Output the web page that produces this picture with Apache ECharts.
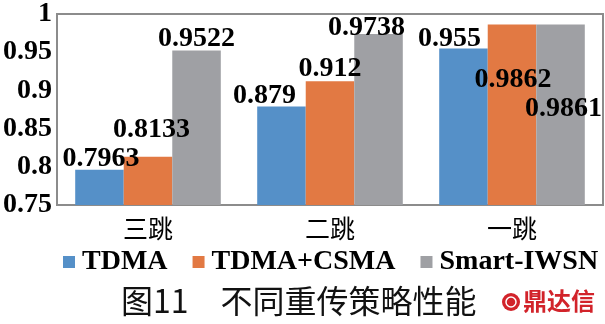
<!DOCTYPE html>
<html>
<head>
<meta charset="utf-8">
<script src="https://cdn.jsdelivr.net/npm/echarts@6/dist/echarts.min.js"></script>
<style>
  html, body { margin: 0; padding: 0; background: #fff; }
  #chart { width: 605px; height: 324px; }
</style>
</head>
<body>
<div id="chart"></div>
<script>
// Hop counts along the x axis
const categories = ['三跳', '二跳', '一跳'];
// Retransmission strategies
const seriesNames = ['TDMA', 'TDMA+CSMA', 'Smart-IWSN'];
// Performance of each strategy per hop count
const tdma = [0.7963, 0.879, 0.955];
const tdmaCsma = [0.8133, 0.912, 0.9862];
const smartIwsn = [0.9522, 0.9738, 0.9861];
// Value axis range
const yMin = 0.75;
const yMax = 1;
const yStep = 0.05;

const colors = ['#5590c8', '#e27943', '#9fa0a4'];
// Hand-placed label nudges [dx, dy] so the value texts do not collide
const labelShift = [
  [[1.5, 3], [-17, 3], [-14, 4]],
  [[3.5, -13], [0, 2], [1, 69]],
  [[0, 2], [-12, 8], [3, 98]]
];

const serif = "'Liberation Serif', 'Times New Roman', 'Noto Sans CJK SC', serif";
const allValues = [tdma, tdmaCsma, smartIwsn];

const series = allValues.map((vals, s) => ({
  name: seriesNames[s],
  type: 'bar',
  barGap: 0,
  barCategoryGap: '20%',
  itemStyle: { color: colors[s] },
  label: {
    show: true,
    position: 'top',
    distance: 0,
    color: '#000',
    fontFamily: serif,
    fontWeight: 'bold',
    fontSize: 28,
    formatter: p => String(p.value)
  },
  data: vals.map((v, i) => ({ value: v, label: { offset: labelShift[s][i] } }))
}));

const chart = echarts.init(document.getElementById('chart'), null, { renderer: 'canvas' });
chart.setOption({
  animation: false,
  backgroundColor: '#fff',
  grid: {
    left: 55, right: 2, top: 12, bottom: 119,
    show: true, borderColor: '#8c8c8c', borderWidth: 2, backgroundColor: 'transparent'
  },
  xAxis: {
    type: 'category',
    data: categories,
    axisTick: { show: false },
    axisLine: { show: true, lineStyle: { color: '#8c8c8c', width: 2 } },
    axisLabel: {
      margin: 11,
      color: '#000',
      fontSize: 25,
      fontFamily: "'Noto Sans CJK SC', serif"
    }
  },
  yAxis: {
    type: 'value',
    min: yMin,
    max: yMax,
    interval: yStep,
    splitLine: { show: false },
    axisLine: { show: false },
    axisTick: { show: false },
    axisLabel: {
      margin: 5,
      color: '#000',
      fontSize: 28,
      fontWeight: 'bold',
      fontFamily: serif
    }
  },
  legend: {
    left: 58,
    top: 243,
    itemWidth: 12,
    itemHeight: 12,
    itemGap: 25,
    icon: 'rect',
    data: seriesNames,
    textStyle: {
      color: '#000',
      fontSize: 28,
      fontWeight: 'bold',
      fontFamily: serif,
      padding: [0, 0, 0, 2]
    }
  },
  graphic: [
    {
      type: 'text',
      left: 121,
      top: 285,
      style: {
        text: '图11　不同重传策略性能',
        fill: '#111',
        font: "32px 'Noto Sans CJK SC', sans-serif"
      }
    },
    {
      type: 'circle',
      shape: { cx: 511, cy: 302, r: 9 },
      style: { fill: '#d2232a' }
    },
    {
      type: 'circle',
      shape: { cx: 511, cy: 302, r: 5 },
      style: { fill: 'none', stroke: '#fff', lineWidth: 1.5 }
    },
    {
      type: 'text',
      left: 523,
      top: 289,
      style: {
        text: '鼎达信',
        fill: '#d2232a',
        font: "bold 24px 'Noto Sans CJK SC', sans-serif"
      }
    }
  ],
  series: series
});
</script>
</body>
</html>
